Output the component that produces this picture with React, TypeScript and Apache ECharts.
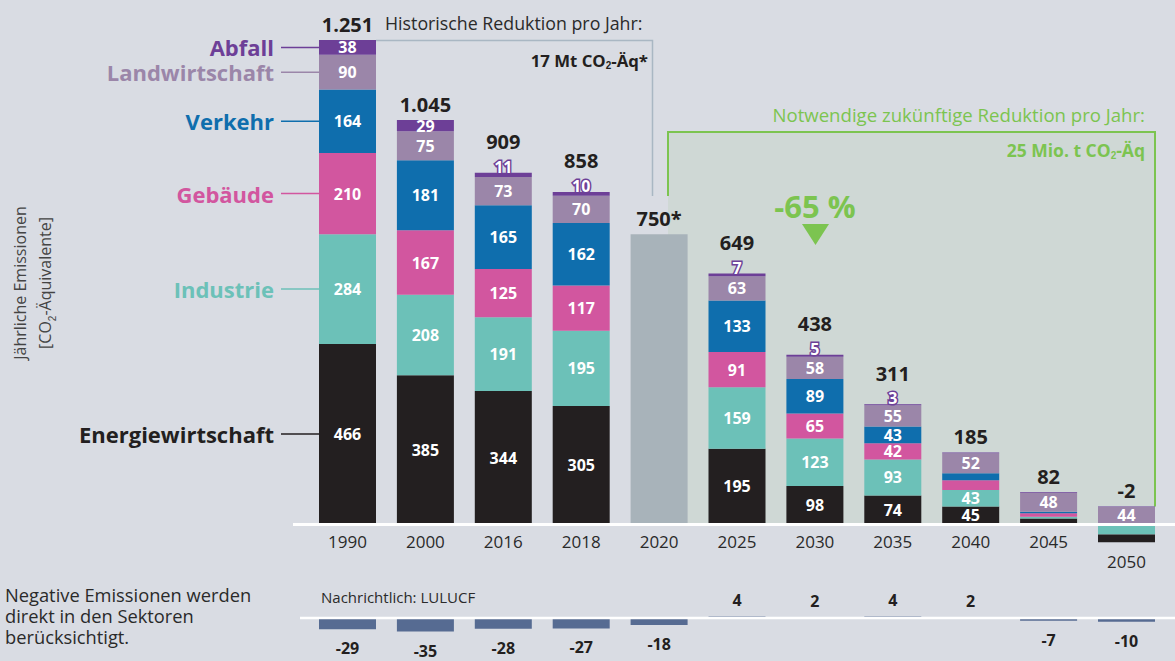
import React, { useEffect, useRef } from 'react';
import * as echarts from 'echarts';

const years = ['1990', '2000', '2016', '2018', '2020', '2025', '2030', '2035', '2040', '2045', '2050'];
const energie = [466, 385, 344, 305, null, 195, 98, 74, 45, 14, null];
const industrie = [284, 208, 191, 195, null, 159, 123, 93, 43, 5, null];
const gebaeude = [210, 167, 125, 117, null, 91, 65, 42, 25, 9, null];
const verkehr = [164, 181, 165, 162, null, 133, 89, 43, 18, 4, null];
const landwirtschaft = [90, 75, 73, 70, null, 63, 58, 55, 52, 48, 44];
const abfall = [38, 29, 11, 10, null, 7, 5, 3, 2, 2, 1];
const gesamt2020 = [null, null, null, null, 750, null, null, null, null, null, null];
const negIndustrie2050 = [null, null, null, null, null, null, null, null, null, null, -27];
const negEnergie2050 = [null, null, null, null, null, null, null, null, null, null, -20];
const totalLabels = ['1.251', '1.045', '909', '858', '750*', '649', '438', '311', '185', '82', '-2'];
const lulucf = [-29, -35, -28, -27, -18, 4, 2, 4, 2, -7, -10];

const FONT = '"Open Sans", "Noto Sans", sans-serif';
const C = {
  abfall: '#6d3f97',
  landw: '#9b86a9',
  verkehr: '#0f6ead',
  gebaeude: '#d2569f',
  industrie: '#6cc1b8',
  energie: '#231f20',
  grau: '#a8b3ba',
  lulucf: '#566b92',
  green: '#7cc450',
  bg: '#d9dce3',
  greenBg: '#cfd8d5',
  text: '#231f20',
  hist: '#a9b7c3',
};

const BAR_W = 57;
const Y_MIN = -100;
const Y_MAX = 1300;
const GRID_TOP = 21.55;
const GRID_H = 541.1;
const PX_PER_UNIT = GRID_H / (Y_MAX - Y_MIN);

export default function App() {
  const ref = useRef<HTMLDivElement>(null);

  useEffect(() => {
    const chart = echarts.init(ref.current!, null, { renderer: 'svg' });

    const segLabel = (min: number) => ({
      show: true,
      position: 'inside',
      color: '#fff',
      fontWeight: 'bold',
      fontSize: 16,
      lineHeight: 14,
      fontFamily: FONT,
      formatter: (p: any) => (p.value != null && Math.abs(p.value) >= min ? String(p.value) : ''),
    });

    const seg = (name: string, data: any[], color: string, stack = 'main', min = 40) => ({
      name,
      type: 'bar',
      stack,
      xAxisIndex: 0,
      yAxisIndex: 0,
      data,
      barWidth: BAR_W,
      barGap: '-100%',
      itemStyle: { color },
      label: segLabel(min),
      emphasis: { disabled: true },
    });

    const outerAbfall = (v: number | null) => v != null && v >= 3 && v < 20;

    const abfallData = abfall.map((v) => {
      if (v == null) return null;
      if (v >= 20) return { value: v, label: { show: true, position: 'inside' } };
      if (outerAbfall(v))
        return {
          value: v,
          label: {
            show: true,
            position: 'top',
            distance: -1,
            color: '#fff',
            textBorderColor: C.abfall,
            textBorderWidth: 3,
          },
        };
      return { value: v, label: { show: false } };
    });

    const option: any = {
      animation: false,
      backgroundColor: C.bg,
      textStyle: { fontFamily: FONT },
      grid: [
        { left: 308.55, right: 9.55, top: GRID_TOP, height: GRID_H },
        { left: 308.55, right: 9.55, top: 602.54, bottom: 27.54 },
      ],
      xAxis: [
        {
          type: 'category',
          gridIndex: 0,
          data: years,
          offset: Y_MIN * PX_PER_UNIT,
          axisLine: { show: false, onZero: false },
          axisTick: { show: false },
          axisLabel: {
            fontSize: 17,
            color: '#2a2a2a',
            margin: 7,
            lineHeight: 20,
            fontFamily: FONT,
            formatter: (v: string) => (v === '2050' ? '\n' + v : v),
          },
        },
        {
          type: 'category',
          gridIndex: 1,
          data: years,
          axisLine: { show: false },
          axisTick: { show: false },
          axisLabel: { show: false },
        },
      ],
      yAxis: [
        { type: 'value', gridIndex: 0, min: Y_MIN, max: Y_MAX, axisLine: { show: false }, axisTick: { show: false }, axisLabel: { show: false }, splitLine: { show: false } },
        { type: 'value', gridIndex: 1, min: -40, max: 40, axisLine: { show: false }, axisTick: { show: false }, axisLabel: { show: false }, splitLine: { show: false } },
      ],
      series: [
        seg('Energiewirtschaft', energie, C.energie),
        seg('Industrie', industrie, C.industrie),
        seg('Gebäude', gebaeude, C.gebaeude),
        seg('Verkehr', verkehr, C.verkehr),
        seg('Landwirtschaft', landwirtschaft, C.landw),
        { ...seg('Abfall', abfallData, C.abfall), label: { ...segLabel(0), formatter: (p: any) => String(p.value) } },
        seg('Gesamt 2020', gesamt2020, C.grau, 'main', Infinity),
        {
          name: 'Gesamt',
          type: 'bar',
          stack: 'main',
          xAxisIndex: 0,
          yAxisIndex: 0,
          barWidth: BAR_W,
          barGap: '-100%',
          data: totalLabels.map((_, i) => ({
            value: 0,
            label: { distance: outerAbfall(abfall[i]) ? 21 : 6 },
          })),
          itemStyle: { color: 'rgba(0,0,0,0)' },
          label: {
            show: true,
            position: 'top',
            fontSize: 20,
            fontWeight: 'bold',
            color: C.text,
            fontFamily: FONT,
            formatter: (p: any) => totalLabels[p.dataIndex],
          },
          emphasis: { disabled: true },
        },
        seg('Industrie 2050', negIndustrie2050, C.industrie, 'neg', Infinity),
        seg('Energiewirtschaft 2050', negEnergie2050, C.energie, 'neg', Infinity),
        {
          name: 'LULUCF',
          type: 'bar',
          xAxisIndex: 1,
          yAxisIndex: 1,
          barWidth: BAR_W,
          data: lulucf.map((v) => ({
            value: v,
            label: { position: v >= 0 ? 'top' : 'bottom', distance: v >= 0 ? 7 : 10 },
          })),
          itemStyle: { color: C.lulucf },
          label: { show: true, fontSize: 16, lineHeight: 18, fontWeight: 'bold', color: C.text, fontFamily: FONT },
          emphasis: { disabled: true },
        },
      ],
    };

    chart.setOption(option);

    const toPx = (g: number, cat: string, v: number) =>
      chart.convertToPixel({ xAxisIndex: g, yAxisIndex: g } as any, [cat, v]) as number[];

    const y0 = toPx(0, '1990', 0)[1];
    const y0b = toPx(1, '1990', 0)[1];
    const x1990 = toPx(0, '1990', 0)[0];
    const x2050 = toPx(0, '2050', 0)[0];
    const half = BAR_W / 2;

    const sectors = [
      { name: 'Energiewirtschaft', data: energie, color: C.energie },
      { name: 'Industrie', data: industrie, color: C.industrie },
      { name: 'Gebäude', data: gebaeude, color: C.gebaeude },
      { name: 'Verkehr', data: verkehr, color: C.verkehr },
      { name: 'Landwirtschaft', data: landwirtschaft, color: C.landw },
      { name: 'Abfall', data: abfall, color: C.abfall },
    ];

    const graphics: any[] = [];
    let cum = 0;
    sectors.forEach((s) => {
      const v = s.data[0] as number;
      const yc = toPx(0, '1990', cum + v / 2)[1];
      cum += v;
      graphics.push({
        type: 'line',
        z: 20,
        shape: { x1: 281, y1: yc, x2: x1990 - half, y2: yc },
        style: { stroke: s.color, lineWidth: 1.5 },
      });
      graphics.push({
        type: 'text',
        z: 20,
        x: 274,
        y: yc,
        style: {
          text: s.name,
          fill: s.color,
          font: `bold 22px ${FONT}`,
          textAlign: 'right',
          textVerticalAlign: 'middle',
        },
      });
    });
    const top1990 = toPx(0, '1990', cum)[1];
    const cum2050 = (landwirtschaft[10] as number) + (abfall[10] as number);
    const top2050 = toPx(0, '2050', cum2050)[1];
    const xR = x2050 + half;

    const sub = { fontSize: 10, lineHeight: 10, verticalAlign: 'bottom' };

    graphics.push(
      {
        type: 'rect',
        z: 0,
        shape: { x: 668, y: 132, width: xR - 668, height: y0 - 132 },
        style: { fill: C.greenBg },
      },
      {
        type: 'polyline',
        z: 1,
        shape: { points: [[x1990 + half, top1990 + 0.5], [652.5, top1990 + 0.5], [652.5, 196]] },
        style: { stroke: C.hist, lineWidth: 1.5, fill: null },
      },
      {
        type: 'polyline',
        z: 1,
        shape: { points: [[668, 196], [668, 132], [xR, 132], [xR, top2050]] },
        style: { stroke: C.green, lineWidth: 2, fill: null },
      },
      {
        type: 'line',
        z: 50,
        shape: { x1: 293, y1: y0 + 0.5, x2: 1175, y2: y0 + 0.5 },
        style: { stroke: '#ffffff', lineWidth: 3 },
      },
      {
        type: 'line',
        z: 50,
        shape: { x1: 300, y1: y0b, x2: 1175, y2: y0b },
        style: { stroke: '#ffffff', lineWidth: 2.5 },
      },
      {
        type: 'text',
        z: 20,
        x: 385,
        y: 23,
        style: {
          text: 'Historische Reduktion pro Jahr:',
          fill: '#2a2a2a',
          font: `17.8px ${FONT}`,
          textVerticalAlign: 'middle',
        },
      },
      {
        type: 'text',
        z: 20,
        x: 648,
        y: 60,
        style: {
          text: '17 Mt CO{sub|2}-Äq*',
          fill: C.text,
          font: `bold 16.8px ${FONT}`,
          lineHeight: 20,
          textAlign: 'right',
          textVerticalAlign: 'middle',
          rich: { sub: { ...sub, fontWeight: 'bold', fill: C.text } },
        },
      },
      {
        type: 'text',
        z: 20,
        x: 1145,
        y: 114,
        style: {
          text: 'Notwendige zukünftige Reduktion pro Jahr:',
          fill: C.green,
          font: `18.6px ${FONT}`,
          textAlign: 'right',
          textVerticalAlign: 'middle',
        },
      },
      {
        type: 'text',
        z: 20,
        x: 1145,
        y: 150,
        style: {
          text: '25 Mio. t CO{sub|2}-Äq',
          fill: C.green,
          font: `bold 17.5px ${FONT}`,
          lineHeight: 20,
          textAlign: 'right',
          textVerticalAlign: 'middle',
          rich: { sub: { ...sub, fontWeight: 'bold', fill: C.green } },
        },
      },
      {
        type: 'text',
        z: 20,
        x: 815,
        y: 206,
        style: {
          text: '-65 %',
          fill: C.green,
          font: `bold 31px ${FONT}`,
          textAlign: 'center',
          textVerticalAlign: 'middle',
        },
      },
      {
        type: 'polygon',
        z: 20,
        shape: { points: [[802, 224], [829, 224], [815.5, 245]] },
        style: { fill: C.green },
      },
      {
        type: 'text',
        z: 20,
        x: 32,
        y: 283,
        rotation: Math.PI / 2,
        style: {
          text: 'Jährliche Emissionen\n[CO{sub|2}-Äquivalente]',
          fill: '#444',
          font: `16px ${FONT}`,
          lineHeight: 25,
          textAlign: 'center',
          textVerticalAlign: 'middle',
          rich: { sub: { fontSize: 10, verticalAlign: 'bottom', lineHeight: 20, fill: '#444' } },
        },
      },
      {
        type: 'text',
        z: 20,
        x: 5,
        y: 584,
        style: {
          text: 'Negative Emissionen werden\ndirekt in den Sektoren\nberücksichtigt.',
          fill: '#2a2a2a',
          font: `18.3px ${FONT}`,
          lineHeight: 21,
          textVerticalAlign: 'top',
        },
      },
      {
        type: 'text',
        z: 20,
        x: 321,
        y: 597,
        style: {
          text: 'Nachrichtlich: LULUCF',
          fill: '#2a2a2a',
          font: `15px ${FONT}`,
          textVerticalAlign: 'middle',
        },
      }
    );

    chart.setOption({ graphic: graphics });

    return () => chart.dispose();
  }, []);

  return <div ref={ref} style={{ position: 'fixed', left: 0, top: 0, width: 1175, height: 661 }} />;
}
